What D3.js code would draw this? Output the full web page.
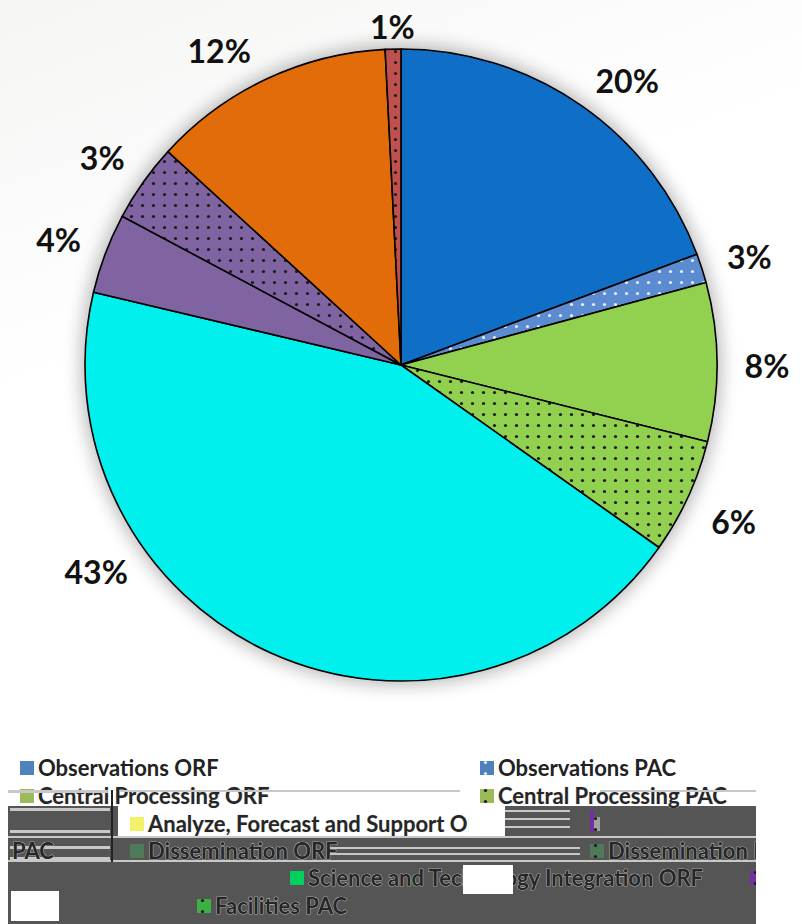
<!DOCTYPE html>
<html>
<head>
<meta charset="utf-8">
<script src="https://cdn.jsdelivr.net/npm/d3@7"></script>
<style>
  html, body { margin: 0; padding: 0; background: #fff; }
  svg { display: block; }
</style>
</head>
<body>
<div id="chart"></div>
<script>
// slices clockwise from 12 o'clock
const sliceNames = [
  "Observations ORF", "Observations PAC", "Central Processing ORF", "Central Processing PAC",
  "Analyze, Forecast and Support ORF", "Dissemination ORF", "Dissemination PAC",
  "Science and Technology Integration ORF", "Facilities PAC"
];
const sliceValues = [19.3, 1.5, 8.1, 5.9, 43.9, 4.1, 4.0, 12.4, 0.8];
const sliceLabels = ["20%", "3%", "8%", "6%", "43%", "4%", "3%", "12%", "1%"];
const sliceColors = ["#0f6fc6", "#5b8bd0", "#92d050", "#92d050", "#00f0ee", "#8064a2", "#8064a2", "#e36c0a", "#c0504d"];
const sliceDotted = [false, true, false, true, false, false, true, false, true];

const legendNames = [
  "Observations ORF", "Observations PAC",
  "Central Processing ORF", "Central Processing PAC",
  "Analyze, Forecast and Support ORF", "Analyze, Forecast and Support PAC",
  "Dissemination ORF", "Dissemination PAC",
  "Science and Technology Integration ORF", "Science and Technology Integration PAC",
  "Facilities ORF", "Facilities PAC"
];
const legendColors = ["#4f81bd", "#4f81bd", "#9bbb59", "#9bbb59", "#f2f26a", "#a0a0a0", "#4e7a5a", "#4e7a5a", "#00d060", "#7030a0", "#888888", "#3cb043"];
const legendDotted = [false, true, false, true, false, true, false, true, false, true, false, true];

const width = 802, height = 924;
const cx = 401, cy = 365, radius = 316, labelRadius = 366;

const svg = d3.select("#chart").append("svg")
  .attr("width", width)
  .attr("height", height);

const defs = svg.append("defs");

const bg = defs.append("linearGradient").attr("id", "bg").attr("x1", 0).attr("y1", 0).attr("x2", 0.4).attr("y2", 1);
bg.append("stop").attr("offset", "0%").attr("stop-color", "#f5f5f4");
bg.append("stop").attr("offset", "45%").attr("stop-color", "#ffffff");
svg.append("rect").attr("width", width).attr("height", 750).attr("fill", "url(#bg)");

const blur = defs.append("filter").attr("id", "glow")
  .attr("x", "-20%").attr("y", "-20%").attr("width", "140%").attr("height", "140%");
blur.append("feGaussianBlur").attr("stdDeviation", 9);

// dotted fills, one pattern per colour
function dotPattern(id, base, dot) {
  const p = defs.append("pattern").attr("id", id)
    .attr("patternUnits", "userSpaceOnUse").attr("width", 11).attr("height", 11);
  p.append("rect").attr("width", 11).attr("height", 11).attr("fill", base);
  p.append("circle").attr("cx", 5.5).attr("cy", 5.5).attr("r", 1.6).attr("fill", dot);
  return `url(#${id})`;
}

function fillFor(color, dotted, i, prefix) {
  if (!dotted) return color;
  const dot = color === "#5b8bd0" || color === "#4f81bd" ? "#e8eef8" : "#1a1a1a";
  return dotPattern(`${prefix}${i}`, color, dot);
}

const g = svg.append("g").attr("transform", `translate(${cx},${cy})`);

g.append("circle").attr("r", radius + 4).attr("fill", "#000").attr("opacity", 0.28)
  .attr("filter", "url(#glow)");

const pie = d3.pie().sort(null).value(d => d)(sliceValues);
const arc = d3.arc().innerRadius(0).outerRadius(radius);

g.selectAll("path.slice")
  .data(pie)
  .join("path")
  .attr("class", "slice")
  .attr("d", arc)
  .attr("fill", (d, i) => fillFor(sliceColors[i], sliceDotted[i], i, "sd"))
  .attr("stroke", "#000")
  .attr("stroke-width", 1.6)
  .attr("stroke-linejoin", "round");

// a few labels were nudged by hand in the source
const angleNudge = { 0: 0.06, 4: 0.56, 7: -0.08 };
const radiusNudge = { 8: -24 };

g.selectAll("text.lbl")
  .data(pie)
  .join("text")
  .attr("class", "lbl")
  .attr("transform", (d, i) => {
    const a = (d.startAngle + d.endAngle) / 2 + (angleNudge[i] || 0);
    const r = labelRadius + (radiusNudge[i] || 0);
    return `translate(${Math.sin(a) * r},${-Math.cos(a) * r})`;
  })
  .attr("text-anchor", "middle")
  .attr("dy", "0.5em")
  .attr("font-family", "Lato, 'Open Sans', sans-serif")
  .attr("font-weight", "bold")
  .attr("font-size", 32)
  .attr("fill", "#111")
  .text((d, i) => sliceLabels[i]);

// legend (rendered with the same broken offsets as the source)
const leg = svg.append("g");
leg.append("rect").attr("x", 8).attr("y", 806).attr("width", 110).attr("height", 32).attr("fill", "#555");
leg.append("rect").attr("x", 505).attr("y", 806).attr("width", 251).attr("height", 32).attr("fill", "#555");
leg.append("rect").attr("x", 8).attr("y", 838).attr("width", 748).attr("height", 86).attr("fill", "#555");
[[10, 808, 100, 3], [10, 830, 100, 3], [10, 846, 100, 3], [10, 857, 100, 3], [8, 836, 748, 2],
 [330, 847, 250, 2], [330, 853, 250, 2], [505, 810, 65, 2], [505, 818, 65, 2], [505, 826, 65, 2], [8, 860, 748, 2]]
  .forEach(([x, y, w, h]) => leg.append("rect").attr("x", x).attr("y", y).attr("width", w).attr("height", h).attr("fill", "#c8c8c8"));

const clip = defs.append("clipPath").attr("id", "legclip");
clip.append("rect").attr("x", 0).attr("y", 740).attr("width", 756).attr("height", 184);

const colX = [20, 480];
const rowY = [768, 796, 824, 851, 878, 906];
const rowShift = [0, 0, 110, 110, 270, -283];

const items = leg.append("g").attr("clip-path", "url(#legclip)")
  .selectAll("g.item")
  .data(legendNames)
  .join("g")
  .attr("class", "item")
  .attr("transform", (d, i) => {
    const r = Math.floor(i / 2), c = i % 2;
    return `translate(${colX[c] + rowShift[r]},${rowY[r]})`;
  });

items.append("rect")
  .attr("x", 0).attr("y", -7).attr("width", 14).attr("height", 14)
  .attr("fill", (d, i) => fillFor(legendColors[i], legendDotted[i], i, "ld"));

items.append("text")
  .attr("x", 18)
  .attr("dy", "0.35em")
  .attr("font-family", "Lato, 'Open Sans', sans-serif")
  .attr("font-weight", "bold")
  .attr("font-size", 22)
  .attr("fill", (d, i) => i < 2 ? "#222" : "#262626")
  .attr("stroke", (d, i) => i < 2 ? "none" : "#e0e0e0")
  .attr("stroke-width", 0.7)
  .attr("paint-order", "stroke")
  .text(d => d);

// patches lying over the legend text
[[11, 891, 48, 30, "#fff"], [463, 865, 50, 29, "#fff"], [469, 806, 36, 30, "#fff"], [600, 808, 156, 28, "#555"],
 [8, 790, 100, 3, "#c8c8c8"], [120, 790, 340, 2, "#c8c8c8"], [600, 790, 156, 2, "#c8c8c8"]]
  .forEach(([x, y, w, h, f]) => leg.append("rect").attr("x", x).attr("y", y).attr("width", w).attr("height", h).attr("fill", f));
leg.append("rect").attr("x", 590).attr("y", 810).attr("width", 4).attr("height", 22).attr("fill", "#7030a0");
leg.append("line").attr("x1", 112).attr("x2", 112).attr("y1", 790).attr("y2", 862).attr("stroke", "#222").attr("stroke-width", 2);

leg.append("text").attr("x", 12).attr("y", 851).attr("dy", "0.35em")
  .attr("font-family", "Lato, 'Open Sans', sans-serif").attr("font-weight", "bold").attr("font-size", 22)
  .attr("fill", "#262626").attr("stroke", "#e0e0e0").attr("stroke-width", 0.7).attr("paint-order", "stroke")
  .text("PAC");
</script>
</body>
</html>
